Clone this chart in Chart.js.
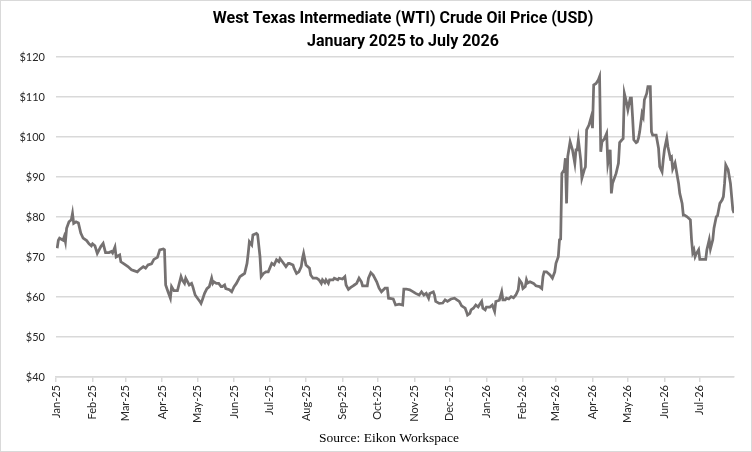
<!DOCTYPE html>
<html>
<head>
<meta charset="utf-8">
<title>WTI Crude Oil Price</title>
<script src="https://cdn.jsdelivr.net/npm/chart.js@4.4.1/dist/chart.umd.min.js"></script>
<style>
html, body { margin: 0; padding: 0; background: #fff; }
#wrap { width: 752px; height: 452px; box-sizing: border-box; border: 1px solid #d9d9d9; }
canvas { display: block; }
</style>
</head>
<body>
<div id="wrap"><canvas id="mycanvas" width="750" height="450"></canvas></div>
<script>
var titleLines = ['West Texas Intermediate (WTI) Crude Oil Price (USD)', 'January 2025 to July 2026'];
var sourceText = 'Source: Eikon Workspace';

var monthLabels = ['Jan-25','Feb-25','Mar-25','Apr-25','May-25','Jun-25','Jul-25','Aug-25','Sep-25','Oct-25','Nov-25','Dec-25',
                   'Jan-26','Feb-26','Mar-26','Apr-26','May-26','Jun-26','Jul-26'];
var yTicks = [40, 50, 60, 70, 80, 90, 100, 110, 120];

// 2025 (month-day) and prices
var dates2025 = ['01-02','01-03','01-04','01-07','01-08','01-09','01-10','01-12','01-14','01-15','01-16','01-18','01-20','01-22','01-24','01-27','01-29','01-31',
  '02-01','02-03','02-05','02-08','02-10','02-12','02-15','02-17','02-18','02-20','02-21','02-24','02-25','02-28',
  '03-03','03-06','03-08','03-11','03-13','03-16','03-18','03-20','03-23','03-25','03-28','03-30',
  '04-02','04-03','04-04','04-06','04-08','04-09','04-11','04-14','04-17','04-18','04-20','04-21','04-24','04-26','04-27','04-29',
  '05-01','05-03','05-04','05-05','05-07','05-09','05-11','05-13','05-14','05-15','05-17','05-19','05-21','05-22','05-24','05-25','05-28','05-30',
  '06-01','06-03','06-06','06-08','06-10','06-12','06-13','06-14','06-16','06-17','06-20','06-21','06-23','06-24','06-26','06-28','06-30',
  '07-03','07-05','07-07','07-09','07-10','07-12','07-15','07-17','07-18','07-21','07-22','07-24','07-26','07-28','07-29','07-30',
  '08-01','08-04','08-05','08-07','08-10','08-12','08-14','08-15','08-17','08-18','08-20','08-21','08-24','08-25','08-28','08-29',
  '09-01','09-03','09-04','09-06','09-08','09-10','09-11','09-13','09-15','09-17','09-18','09-22','09-23','09-25','09-27','09-30',
  '10-02','10-04','10-07','10-09','10-10','10-14','10-16','10-19','10-22','10-23','10-25','10-28','10-31',
  '11-02','11-05','11-07','11-09','11-11','11-13','11-14','11-17','11-18','11-19','11-22','11-25','11-27','11-29',
  '12-02','12-05','12-07','12-09','12-11','12-14','12-15','12-16','12-18','12-19','12-21','12-23','12-25','12-26','12-28','12-29','12-31'];
var prices2025 = [72.2,74.2,74.7,74.2,75.1,73.8,77.2,78.8,79.3,80.9,78.4,78.8,78.5,76.0,74.7,74.1,73.3,72.8,
  73.3,72.8,70.9,72.6,73.4,71.1,71.1,71.4,71.0,72.5,70.0,70.5,68.8,68.2,
  67.6,66.8,66.6,66.3,66.9,67.6,67.2,68.0,68.3,69.4,69.9,71.8,
  72.0,71.8,63.0,61.3,59.7,62.6,61.6,61.6,65.1,64.3,63.4,64.7,63.0,63.4,62.6,60.5,
  59.7,58.9,58.4,59.2,60.9,62.1,62.6,64.7,63.4,63.8,63.4,63.4,62.6,62.6,63.0,62.1,61.8,61.3,
  62.6,63.4,65.1,65.5,65.9,68.4,70.9,73.8,73.0,75.5,75.9,75.6,70.1,65.1,65.9,66.3,66.3,
  68.4,68.0,69.3,68.8,69.6,68.8,67.6,68.4,68.4,68.0,67.1,65.9,66.3,67.6,69.6,70.9,
  68.0,67.2,65.5,64.7,64.7,64.3,63.4,64.3,63.6,64.3,63.4,64.3,64.3,64.7,64.3,64.7,
  64.5,65.1,63.0,61.9,62.4,62.8,63.0,63.4,64.7,63.8,62.8,62.8,64.7,66.1,65.5,63.8,
  62.2,61.3,62.2,62.2,59.7,59.5,58.0,58.2,58.0,62.0,62.0,61.8,61.3,
  60.9,60.5,61.3,60.5,60.9,59.7,60.9,61.3,60.5,58.9,58.4,58.5,59.3,58.9,
  59.5,59.7,59.3,58.9,57.8,57.2,56.4,55.5,55.9,56.8,57.2,58.0,57.5,58.0,58.9,57.2,56.8];

// 2026 (month-day) and prices
var dates2026 = ['01-01','01-04','01-06','01-08','01-09','01-12','01-14','01-15','01-17','01-18','01-20','01-22','01-24','01-26','01-28','01-29','01-31',
  '02-01','02-03','02-04','02-05','02-07','02-10','02-12','02-15','02-17','02-18','02-19','02-21','02-24','02-26','02-28',
  '03-01','03-03','03-04','03-05','03-06','03-08','03-09','03-10','03-11','03-13','03-15','03-17','03-18','03-19','03-20','03-22','03-23','03-25','03-26','03-27','03-29','03-31',
  '04-01','04-02','04-04','04-06','04-07','04-08','04-09','04-11','04-13','04-14','04-16','04-17','04-18','04-21','04-23','04-24','04-26','04-27','04-28','04-30',
  '05-01','05-03','05-04','05-05','05-06','05-08','05-09','05-10','05-11','05-13','05-14','05-15','05-17','05-18','05-20','05-21','05-22','05-25','05-27','05-28','05-30','05-31',
  '06-01','06-03','06-04','06-06','06-07','06-08','06-10','06-11','06-13','06-14','06-16','06-17','06-18','06-20','06-23','06-24','06-25','06-26','06-27','06-28','06-30',
  '07-01','07-04','07-06','07-07','07-09','07-10','07-12','07-13','07-15','07-16','07-18','07-20','07-21','07-22','07-23','07-25','07-27','07-29','07-30'];
var prices2026 = [57.5,57.5,58.0,56.4,58.9,59.2,61.3,59.3,59.3,59.7,59.5,60.1,59.8,60.5,61.8,64.3,63.4,
  62.1,62.6,64.3,63.5,63.8,63.4,62.8,62.6,62.1,65.1,66.3,66.3,65.5,64.7,66.3,
  68.4,70.1,74.3,74.5,90.9,91.8,94.7,83.4,95.1,98.8,96.8,93.4,96.8,96.8,99.3,94.3,89.7,91.8,92.5,101.8,103.0,105.1,
  102.2,113.0,113.4,114.3,115.1,96.3,98.8,99.5,100.9,93.4,96.8,85.9,88.4,90.9,93.4,98.6,99.3,99.6,110.9,108.4,
  106.8,109.7,109.7,104.9,99.3,98.6,98.8,99.7,101.3,105.9,105.1,109.3,110.9,112.6,112.6,101.3,100.5,100.5,97.2,92.6,91.3,94.3,
  96.8,99.7,97.5,94.7,95.0,92.0,93.5,91.8,88.4,85.9,83.4,80.5,80.5,80.1,79.3,74.3,71.1,71.8,70.1,70.8,71.8,
  69.4,69.4,69.4,71.8,74.3,72.0,74.3,77.2,80.1,80.3,83.4,84.3,85.1,88.4,93.0,91.8,88.4,81.8,81.0];

var DAY = 86400000;
var origin = Date.UTC(2025, 0, 1);
function dayOf(year, md) {
    var p = md.split('-');
    return (Date.UTC(year, +p[0] - 1, +p[1]) - origin) / DAY;
}

var points = [];
for (var i in dates2025) points.push({x: dayOf(2025, dates2025[i]), y: prices2025[i]});
for (var j in dates2026) points.push({x: dayOf(2026, dates2026[j]), y: prices2026[j]});

var monthStarts = monthLabels.map(function(l, k) {
    return (Date.UTC(2025, k, 1) - origin) / DAY;
});

// title and source line, placed where the original has them
var textPlugin = {
    id: 'textPlugin',
    afterDraw: function(chart) {
        var ctx = chart.ctx;
        ctx.save();
        ctx.fillStyle = '#000';
        ctx.textAlign = 'center';
        ctx.textBaseline = 'middle';
        ctx.font = 'bold 16px "Liberation Sans Narrow", Roboto, sans-serif';
        ctx.fillText(titleLines[0], 402, 18);
        ctx.fillText(titleLines[1], 402, 41);
        ctx.font = '13.5px "Liberation Serif", serif';
        ctx.fillText(sourceText, 388, 437);
        ctx.restore();
    }
};

var ctx = document.getElementById('mycanvas');

var lineChart = new Chart(ctx, {
    type: 'line',
    data: {
        datasets: [{
            label: 'WTI',
            data: points,
            borderColor: '#757171',
            borderWidth: 2.75,
            pointRadius: 0,
            tension: 0,
            fill: false
        }]
    },
    options: {
        responsive: false,
        animation: false,
        devicePixelRatio: 1,
        layout: { padding: { top: 56, right: 17, bottom: 0, left: 0 } },
        plugins: {
            legend: { display: false },
            tooltip: { enabled: false }
        },
        scales: {
            x: {
                type: 'linear',
                min: 0,
                max: points[points.length - 1].x,
                afterBuildTicks: function(scale) {
                    scale.ticks = monthStarts.map(function(v) { return {value: v}; });
                },
                afterFit: function(scale) { scale.height = 74; },
                grid: { drawOnChartArea: false, drawTicks: true, tickLength: 5, color: '#d9d9d9', lineWidth: 1.5 },
                border: { display: true, color: '#d9d9d9', width: 1.5 },
                ticks: {
                    autoSkip: false,
                    minRotation: 90,
                    maxRotation: 90,
                    padding: 3,
                    color: '#262626',
                    font: { family: 'Lato', size: 11 },
                    callback: function(value) {
                        var k = monthStarts.indexOf(value);
                        return k >= 0 ? monthLabels[k] : '';
                    }
                }
            },
            y: {
                min: 40,
                max: 120,
                afterBuildTicks: function(scale) {
                    scale.ticks = yTicks.map(function(v) { return {value: v}; });
                },
                afterFit: function(scale) { scale.width = 55; },
                grid: { color: '#d9d9d9', lineWidth: 1.5, drawTicks: false },
                border: { display: false },
                ticks: {
                    padding: 11,
                    color: '#262626',
                    font: { family: 'Lato', size: 11 },
                    callback: function(value) { return '$' + value; }
                }
            }
        }
    },
    plugins: [textPlugin]
});
</script>
</body>
</html>
